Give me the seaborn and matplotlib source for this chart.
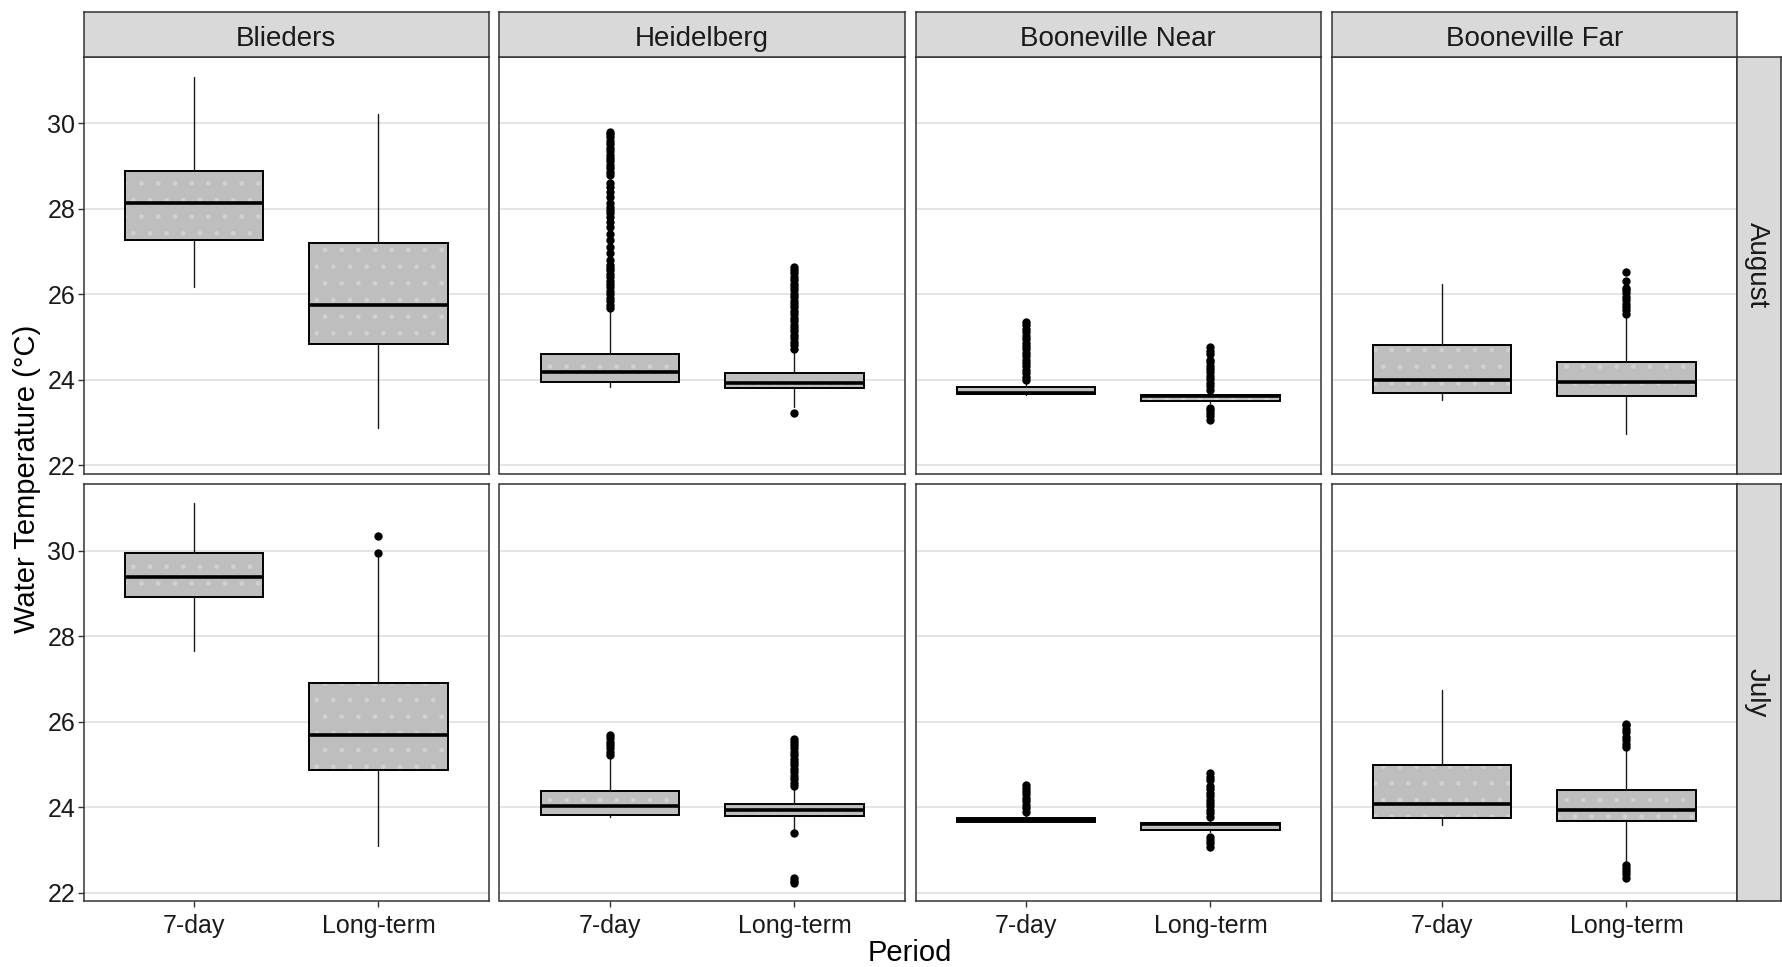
import matplotlib
matplotlib.use('Agg')
import matplotlib.pyplot as plt
import seaborn as sns
import numpy as np

sns.set_style("white")
plt.rcParams['font.family'] = ['Liberation Sans', 'DejaVu Sans']
plt.rcParams['hatch.linewidth'] = 1.0

# Facets
sites = ['Blieders', 'Heidelberg', 'Booneville Near', 'Booneville Far']
months = ['August', 'July']
periods = ['7-day', 'Long-term']

# Box statistics: [month][site][period]
med = [[[28.14, 25.75], [24.17, 23.93], [23.70, 23.61], [24.00, 23.94]],
       [[29.38, 25.69], [24.02, 23.94], [23.70, 23.61], [24.08, 23.93]]]
q1 = [[[27.28, 24.83], [23.94, 23.80], [23.67, 23.49], [23.70, 23.63]],
      [[28.92, 24.88], [23.83, 23.80], [23.66, 23.48], [23.74, 23.67]]]
q3 = [[[28.88, 27.21], [24.60, 24.16], [23.83, 23.65], [24.82, 24.41]],
      [[29.96, 26.90], [24.38, 24.08], [23.74, 23.64], [24.99, 24.40]]]
whislo = [[[26.17, 22.87], [23.83, 23.35], [23.65, 23.45], [23.52, 22.73]],
          [[27.65, 23.10], [23.77, 23.47], [23.65, 23.42], [23.59, 22.70]]]
whishi = [[[31.09, 30.21], [25.59, 24.66], [23.90, 23.74], [26.25, 25.47]],
          [[31.12, 29.87], [25.17, 24.42], [23.86, 23.74], [26.74, 25.37]]]

# Outliers
out_hei_aug_7 = [25.68, 25.76, 25.84, 25.92, 26.00, 26.08, 26.16, 26.24, 26.32, 26.40,
                 26.48, 26.56, 26.62, 26.68, 26.80, 26.96, 27.11, 27.27, 27.42, 27.58,
                 27.70, 27.81, 27.90, 27.97, 28.05, 28.13, 28.28, 28.40, 28.50, 28.60,
                 28.79, 28.87, 28.95, 29.03, 29.11, 29.19, 29.27, 29.35, 29.43, 29.51,
                 29.59, 29.67, 29.74, 29.79]
out_hei_aug_lt = [23.23, 24.73, 24.81, 24.89, 24.97, 25.05, 25.13, 25.21, 25.29, 25.37,
                  25.45, 25.53, 25.61, 25.69, 25.77, 25.85, 25.93, 26.01, 26.09, 26.17,
                  26.25, 26.33, 26.41, 26.49, 26.57, 26.64]
out_bn_aug_7 = [23.99, 24.07, 24.15, 24.23, 24.31, 24.39, 24.47, 24.55, 24.63, 24.71,
                24.79, 24.87, 24.95, 25.03, 25.11, 25.19, 25.27, 25.35]
out_bn_aug_lt = [23.06, 23.14, 23.22, 23.30, 23.34, 23.77, 23.85, 23.93, 24.01, 24.09,
                 24.17, 24.25, 24.33, 24.41, 24.47, 24.60, 24.68, 24.76]
out_bf_aug_lt = [25.54, 25.62, 25.70, 25.78, 25.86, 25.94, 26.02, 26.10, 26.15, 26.30, 26.53]
out_bl_jul_lt = [29.95, 30.34]
out_hei_jul_7 = [25.22, 25.30, 25.38, 25.46, 25.54, 25.62, 25.69]
out_hei_jul_lt = [22.22, 22.28, 22.34, 23.39, 24.50, 24.58, 24.66, 24.74, 24.82, 24.90,
                  24.98, 25.06, 25.14, 25.22, 25.30, 25.38, 25.46, 25.54, 25.61]
out_bn_jul_7 = [23.90, 23.98, 24.06, 24.14, 24.22, 24.30, 24.38, 24.46, 24.52]
out_bn_jul_lt = [23.08, 23.16, 23.24, 23.30, 23.78, 23.86, 23.94, 24.02, 24.10, 24.18,
                 24.26, 24.34, 24.42, 24.50, 24.64, 24.72, 24.80]
out_bf_jul_lt = [22.35, 22.43, 22.51, 22.59, 22.64, 25.41, 25.49, 25.57, 25.65, 25.76,
                 25.84, 25.92, 25.96]

outliers = [
    [[[], []], [out_hei_aug_7, out_hei_aug_lt], [out_bn_aug_7, out_bn_aug_lt], [[], out_bf_aug_lt]],
    [[[], out_bl_jul_lt], [out_hei_jul_7, out_hei_jul_lt], [out_bn_jul_7, out_bn_jul_lt], [[], out_bf_jul_lt]],
]

yticks = [22, 24, 26, 28, 30]

# Layout in pixels
W, H = 1782, 967
fig = plt.figure(figsize=(W / 100, H / 100), dpi=100)


def rect(x0, y0, w, h):
    return [x0 / W, 1 - (y0 + h) / H, w / W, h / H]


panel_left = 83.5
panel_w = 405.5
panel_gap = 10.5
row_tops = [56.7, 484.3]
panel_h = 417.0
strip_top = 11.7
strip_h = 45.0
strip_w = 44.3
border = '#333333'
text_col = '#1a1a1a'

for r, month in enumerate(months):
    for c, site in enumerate(sites):
        x0 = panel_left + c * (panel_w + panel_gap)
        ax = fig.add_axes(rect(x0, row_tops[r], panel_w, panel_h))
        stats = []
        for p in range(2):
            stats.append(dict(med=med[r][c][p], q1=q1[r][c][p], q3=q3[r][c][p],
                              whislo=whislo[r][c][p], whishi=whishi[r][c][p], fliers=[]))
        # dotted grey fill
        ax.bxp(stats, positions=[1, 2], widths=0.75, patch_artist=True,
               showcaps=False, showfliers=False,
               boxprops=dict(facecolor='#BEBEBE', edgecolor='#D0D0D0', hatch='.', linewidth=0),
               whiskerprops=dict(linewidth=0), medianprops=dict(linewidth=0))
        # outlines, whiskers, medians
        ax.bxp(stats, positions=[1, 2], widths=0.75, patch_artist=True,
               showcaps=False, showfliers=False,
               boxprops=dict(facecolor='none', edgecolor='black', linewidth=1.4),
               whiskerprops=dict(color='#1a1a1a', linewidth=1.0),
               medianprops=dict(color='black', linewidth=2.6, solid_capstyle='butt'))
        for p in range(2):
            vals = outliers[r][c][p]
            if len(vals) > 0:
                sns.scatterplot(x=[p + 1] * len(vals), y=vals, ax=ax, color='black',
                                s=36, linewidth=0, legend=False, zorder=4)

        ax.set_xlim(0.4, 2.6)
        ax.set_ylim(21.8, 31.56)
        ax.set_yticks(yticks)
        ax.set_xticks([1, 2])
        ax.yaxis.grid(True, color='#DEDEDE', linewidth=1.1)
        ax.xaxis.grid(False)
        ax.set_axisbelow(True)
        ax.set_xlabel('')
        ax.set_ylabel('')
        for sp in ax.spines.values():
            sp.set_color(border)
            sp.set_linewidth(1.1)
        ax.tick_params(axis='y', left=(c == 0), labelleft=(c == 0), length=4, width=1,
                       color=border, labelsize=18, labelcolor=text_col, pad=2)
        ax.tick_params(axis='x', bottom=(r == 1), labelbottom=(r == 1), length=4, width=1,
                       color=border, labelsize=18, labelcolor=text_col, pad=5)
        if r == 1:
            ax.set_xticklabels(periods)

        # top strips
        if r == 0:
            sax = fig.add_axes(rect(x0, strip_top, panel_w, strip_h))
            sax.set_facecolor('#D9D9D9')
            sax.set_xticks([])
            sax.set_yticks([])
            for sp in sax.spines.values():
                sp.set_color(border)
                sp.set_linewidth(1.1)
            sax.text(0.5, 0.40, site, ha='center', va='center', fontsize=20,
                     color=text_col, transform=sax.transAxes)

    # right strips
    rx = panel_left + 4 * panel_w + 3 * panel_gap
    rax = fig.add_axes(rect(rx, row_tops[r], strip_w, panel_h))
    rax.set_facecolor('#D9D9D9')
    rax.set_xticks([])
    rax.set_yticks([])
    for sp in rax.spines.values():
        sp.set_color(border)
        sp.set_linewidth(1.1)
    rax.text(0.45, 0.5, month, ha='center', va='center', fontsize=20, rotation=-90,
             color=text_col, transform=rax.transAxes)

# axis titles
fig.text(27 / W, 1 - 479 / H, 'Water Temperature (°C)', rotation=90, ha='center',
         va='center', fontsize=21, color='black')
fig.text(910 / W, 1 - 953 / H, 'Period', ha='center', va='center', fontsize=21, color='black')

plt.savefig('out.png', dpi=100)
